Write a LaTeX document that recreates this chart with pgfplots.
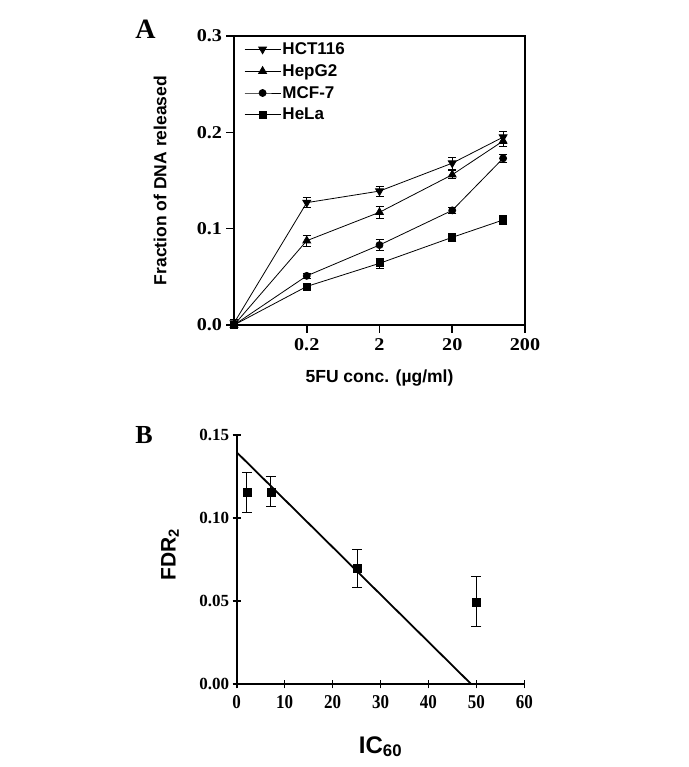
\documentclass[border=0pt]{standalone}
\usepackage{fontspec}
\setmainfont{Liberation Serif}
\setsansfont{Liberation Sans}
\usepackage{pgfplots}
\pgfplotsset{compat=1.18}
\begin{document}
\begin{tikzpicture}
\path (0pt,0pt) rectangle (688pt,767pt);
\node[font=\fontsize{28}{30}\selectfont\bfseries] at (145.5pt,738pt) {A};
\node[font=\fontsize{26}{30}\selectfont\bfseries] at (144pt,332pt) {B};
\pgfplotsset{
  common/.style={
    scale only axis,
    tick align=outside,
    major tick length=8pt,
    tick pos=left,
    axis line style={line width=1.8pt},
    every tick/.style={line width=1.6pt, black},
    /pgf/number format/assume math mode=true,
    scaled y ticks=false,
    clip=false,
  }
}
% Panel A
\begin{axis}[common,
  at={(234pt,442pt)}, anchor=south west,
  width=291pt, height=289pt,
  xmode=log, xmin=0.02, xmax=200,
  ymin=0, ymax=0.3,
  tick label style={font=\fontsize{18}{20}\selectfont\bfseries, xscale=1.12},
  xticklabel style={yshift=-2pt},
  xtick={0.2,2,20,200}, xticklabels={0.2,2,20,200},
  xminorticks=false,
  ytick={0,0.1,0.2,0.3},
  yticklabel style={/pgf/number format/.cd, fixed, fixed zerofill, precision=1},
  xlabel={5FU conc. (µg/ml)},
  ylabel={Fraction of DNA released},
  xlabel style={font=\sffamily\bfseries\fontsize{17.5}{20}\selectfont, at={(axis description cs:0.5,-0.185)}, anchor=center},
  ylabel style={font=\sffamily\bfseries\fontsize{17.5}{20}\selectfont, at={(axis description cs:-0.254,0.5)}, anchor=center, rotate=0},
  every axis plot/.append style={black, line width=0.8pt},
  error bars/y dir=both, error bars/y explicit,
  error bars/error mark options={rotate=90, mark size=4pt, line width=0.8pt},
  error bars/error bar style={line width=0.8pt},
  legend style={draw=none, fill=none, at={(axis description cs:0.024,0.99)}, anchor=north west,
    font=\sffamily\bfseries\fontsize{17}{19}\selectfont, row sep=5.5pt, nodes={inner sep=1.5pt}},
  legend cell align=left,
  legend image code/.code={\draw[mark repeat=2,mark phase=2] plot coordinates {(0pt,0pt) (18pt,0pt) (36pt,0pt)};},
]
\addplot[mark=triangle*, mark size=4.5pt, mark options={solid, rotate=180}] coordinates {
  (0.02,0.002) +- (0,0.004)
  (0.2,0.127) +- (0,0.005)
  (2,0.139) +- (0,0.005)
  (20,0.168) +- (0,0.006)
  (100,0.195) +- (0,0.006)
};
\addlegendentry{HCT116}
\addplot[mark=triangle*, mark size=4.5pt, mark options={solid}] coordinates {
  (0.02,0) +- (0,0.003)
  (0.2,0.0875) +- (0,0.006)
  (2,0.117) +- (0,0.006)
  (20,0.156) +- (0,0.004)
  (100,0.191) +- (0,0.006)
};
\addlegendentry{HepG2}
\addplot[mark=*, mark size=3.5pt, mark options={solid}] coordinates {
  (0.02,0) +- (0,0.003)
  (0.2,0.051) +- (0,0.003)
  (2,0.083) +- (0,0.006)
  (20,0.119) +- (0,0.003)
  (100,0.173) +- (0,0.004)
};
\addlegendentry{MCF-7}
\addplot[mark=square*, mark size=3.5pt, mark options={solid}] coordinates {
  (0.02,0) +- (0,0.003)
  (0.2,0.040) +- (0,0.003)
  (2,0.064) +- (0,0.005)
  (20,0.091) +- (0,0.004)
  (100,0.109) +- (0,0.005)
};
\addlegendentry{HeLa}
\end{axis}
% Panel B
\begin{axis}[common,
  at={(236.7pt,82.7pt)}, anchor=south west,
  width=287.6pt, height=249.3pt,
  axis x line=bottom, axis y line=left,
  axis line style={-, line width=1.8pt},
  xmin=0, xmax=60, ymin=0, ymax=0.15,
  tick label style={font=\fontsize{17}{19}\selectfont\bfseries},
  xticklabel style={yscale=1.15, yshift=-3pt},
  xtick={0,10,...,60},
  ytick={0,0.05,0.1,0.15},
  yticklabel style={/pgf/number format/.cd, fixed, fixed zerofill, precision=2},
  xlabel={IC\textsubscript{60}},
  ylabel={FDR\textsubscript{2}},
  xlabel style={font=\sffamily\bfseries\fontsize{24}{26}\selectfont, at={(axis description cs:0.5,-0.25)}, anchor=center},
  ylabel style={font=\sffamily\bfseries\fontsize{21}{24}\selectfont, at={(axis description cs:-0.232,0.52)}, anchor=center, rotate=0},
]
\addplot[black, line width=1.8pt] coordinates {(0,0.1396) (48.96,0)};
\addplot[black, only marks, mark=square*, mark size=4pt,
  error bars/.cd, y dir=both, y explicit,
  error mark options={rotate=90, mark size=5pt, line width=0.9pt},
  error bar style={line width=0.9pt}] coordinates {
  (2.1,0.1156) +- (0,0.012)
  (7.1,0.1158) +- (0,0.009)
  (25.1,0.0696) +- (0,0.0115)
  (50,0.0496) +- (0,0.015)
};
\end{axis}
\end{tikzpicture}
\end{document}
